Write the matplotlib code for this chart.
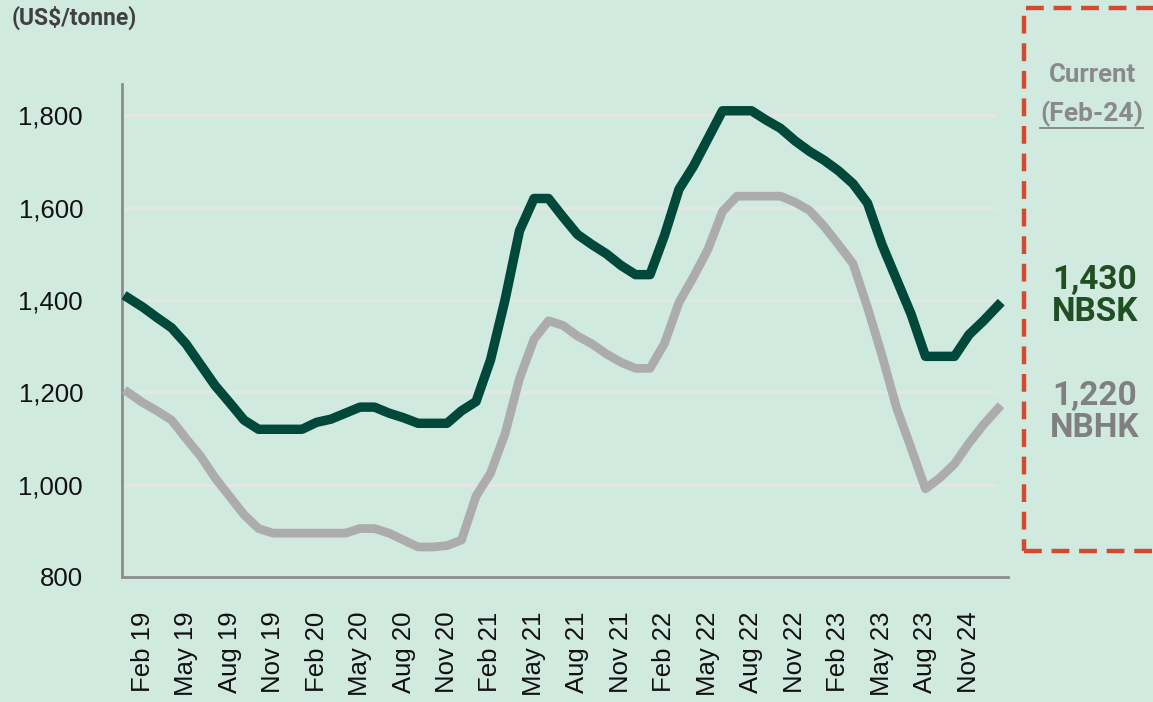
import matplotlib
matplotlib.use("Agg")
import matplotlib.pyplot as plt
from matplotlib.patches import Rectangle
from matplotlib.lines import Line2D

# ---- data ----
tick_labels = ["Feb 19", "May 19", "Aug 19", "Nov 19", "Feb 20", "May 20", "Aug 20", "Nov 20",
               "Feb 21", "May 21", "Aug 21", "Nov 21", "Feb 22", "May 22", "Aug 22", "Nov 22",
               "Feb 23", "May 23", "Aug 23", "Nov 24"]
nbsk = [1405, 1385, 1362, 1340, 1305, 1260, 1215, 1178, 1140, 1120,
        1120, 1120, 1120, 1135, 1142, 1155, 1168, 1168, 1155, 1145,
        1133, 1133, 1133, 1160, 1180, 1270, 1400, 1550, 1620, 1620,
        1580, 1542, 1520, 1500, 1475, 1455, 1455, 1540, 1640, 1690,
        1750, 1810, 1810, 1810, 1790, 1772, 1745, 1722, 1703, 1680,
        1652, 1610, 1520, 1445, 1370, 1278, 1278, 1278, 1325, 1355, 1388]
nbhk = [1200, 1178, 1160, 1140, 1100, 1062, 1015, 975, 935, 905,
        895, 895, 895, 895, 895, 895, 905, 905, 895, 880,
        865, 865, 868, 880, 975, 1025, 1110, 1230, 1315, 1355,
        1345, 1322, 1305, 1283, 1265, 1252, 1252, 1306, 1395, 1450,
        1510, 1592, 1625, 1625, 1625, 1625, 1612, 1594, 1560, 1520,
        1479, 1384, 1280, 1167, 1080, 991, 1015, 1045, 1090, 1130, 1165]
yticks = [800, 1000, 1200, 1400, 1600, 1800]
current_nbsk = "1,430"
current_nbhk = "1,220"

BG = "#d1eadf"
W, H = 1153, 702
fig = plt.figure(figsize=(W / 100, H / 100), dpi=100, facecolor=BG)
ax = fig.add_axes([122 / W, 1 - 577 / H, (1008 - 122) / W, (577 - 84) / H])
ax.set_facecolor(BG)

x = list(range(len(nbsk)))
ax.plot(x, nbhk, color="#acacac", lw=6.3, solid_joinstyle="round", zorder=3)
ax.plot(x, nbsk, color="#00493a", lw=6.8, solid_joinstyle="round", zorder=4)

ax.set_xlim(-0.414, 60.69)
ax.set_ylim(800, 1868)

fam = ["Liberation Sans", "DejaVu Sans"]
ax.set_yticks(yticks)
ax.set_yticklabels([f"{v:,}" for v in yticks], family=fam, fontsize=18.5, color="#111111")
tick_pos = [1 + 3 * k for k in range(len(tick_labels))]
ax.set_xticks(tick_pos)
ax.set_xticklabels(tick_labels, rotation=90, family=fam, fontsize=18.5, color="#111111")
ax.tick_params(axis="y", length=0, pad=28)
ax.tick_params(axis="x", length=0, pad=25)

for v in yticks[1:]:
    ax.axhline(v, color="#e4e6e4", lw=2.2, zorder=1, xmax=0.985)

for s in ["top", "right"]:
    ax.spines[s].set_visible(False)
for s in ["left", "bottom"]:
    ax.spines[s].set_color("#8c8c8c")
    ax.spines[s].set_linewidth(2.0)

# unit label
fig.text(12 / W, 1 - 18 / H, "(US$/tonne)", family=["Roboto", "DejaVu Sans"], fontweight="bold",
         fontsize=16.5, color="#404040", va="center", ha="left")

# dashed box
rect = Rectangle((1024 / W, 1 - 551 / H), (1170 - 1024) / W, (551 - 8) / H, transform=fig.transFigure,
                 fill=False, edgecolor="#d5492f", lw=3.2, linestyle=(0, (4, 2.2)), clip_on=False)
fig.add_artist(rect)

rob = ["Roboto", "DejaVu Sans"]
cx = 1092 / W
fig.text(cx, 1 - 75 / H, "Current", family=rob, fontweight="bold", fontsize=18.5, color="#8a8a8a",
         ha="center", va="center")
fig.text(cx, 1 - 114 / H, "(Feb-24)", family=rob, fontweight="bold", fontsize=19, color="#8a8a8a",
         ha="center", va="center")
fig.add_artist(Line2D([1040 / W, 1143 / W], [1 - 128 / H, 1 - 128 / H], transform=fig.transFigure,
                      color="#8a8a8a", lw=1.4))
fig.text(1095 / W, 1 - 280 / H, current_nbsk, family=rob, fontweight="bold", fontsize=24,
         color="#1f4f22", ha="center", va="center")
fig.text(1095 / W, 1 - 312 / H, "NBSK", family=rob, fontweight="bold", fontsize=24,
         color="#1f4f22", ha="center", va="center")
fig.text(1095 / W, 1 - 396 / H, current_nbhk, family=rob, fontweight="bold", fontsize=24,
         color="#808080", ha="center", va="center")
fig.text(1095 / W, 1 - 428 / H, "NBHK", family=rob, fontweight="bold", fontsize=24,
         color="#808080", ha="center", va="center")

fig.savefig("out.png", dpi=100, facecolor=BG)
